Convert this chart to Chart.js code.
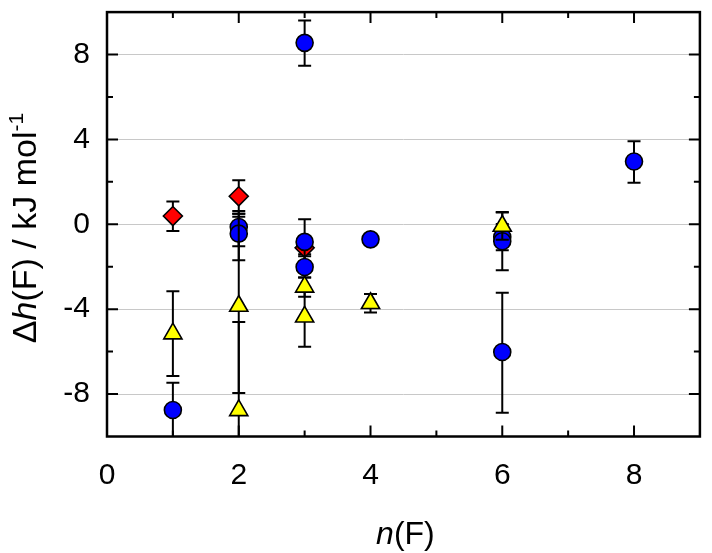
<!DOCTYPE html>
<html><head><meta charset="utf-8">
<script src="https://cdn.jsdelivr.net/npm/chart.js@4.4.0/dist/chart.umd.min.js"></script>
<style>html,body{margin:0;padding:0;background:#fff}#wrap{width:712px;height:553px}</style>
</head><body><div id="wrap"><canvas id="c" width="712" height="553"></canvas></div>
<script>
const xTicks = [0, 2, 4, 6, 8];
const yTicks = [-8, -4, 0, 4, 8];
const xMinor = [1, 3, 5, 7];
const yMinor = [-6, -2, 2, 6];

const blueX = [1, 2, 2, 3, 3, 3, 4, 6, 6, 6, 8];
const blueY = [-8.75, -0.13, -0.44, 8.55, -0.83, -2.01, -0.71, -0.6, -0.8, -6.02, 2.96];
const blueErrUp = [1.28, 0.76, 0.94, 1.05, 1.07, 0.5, 0.2, 0.62, 1.36, 2.79, 0.95];
const blueErrDown = [1.28, 0.91, 1.25, 1.08, 1.07, 0.5, 0.2, 0.62, 1.36, 2.86, 1.0];

const redX = [1, 2, 3];
const redY = [0.39, 1.32, -1.11];
const redErrUp = [0.69, 0.75, 0.3];
const redErrDown = [0.7, 0.82, 0.3];

const yellowX = [1, 2, 2, 3, 3, 4, 6];
const yellowY = [-5.15, -3.85, -8.77, -2.95, -4.36, -3.72, -0.08];
const yellowErrUp = [2.0, 4.2, 4.17, 0.44, 1.41, 0.44, 0.66];
const yellowErrDown = [2.0, 4.1, 4.17, 0.47, 1.41, 0.44, 0.65];

const FONT = '"Liberation Sans", Arial, sans-serif';

function pts(xs, ys) { return xs.map((v, i) => ({ x: v, y: ys[i] })); }

const errorBars = {
  id: 'errorBars',
  beforeDatasetDraw(chart, args) {
    const ds = chart.data.datasets[args.index];
    const xs = chart.scales.x, ys = chart.scales.y;
    const ctx = chart.ctx, a = chart.chartArea;
    ctx.save();
    ctx.beginPath();
    ctx.rect(a.left, a.top, a.right - a.left, a.bottom - a.top);
    ctx.clip();
    ctx.strokeStyle = '#000';
    ctx.lineWidth = 2;
    ds.data.forEach((p, i) => {
      const px = xs.getPixelForValue(p.x);
      const top = ys.getPixelForValue(p.y + ds.errUp[i]);
      const bot = ys.getPixelForValue(p.y - ds.errDown[i]);
      ctx.beginPath();
      ctx.moveTo(px, top); ctx.lineTo(px, bot);
      ctx.moveTo(px - 6.5, top); ctx.lineTo(px + 6.5, top);
      ctx.moveTo(px - 6.5, bot); ctx.lineTo(px + 6.5, bot);
      ctx.stroke();
    });
    ctx.restore();
  }
};

function measureParts(ctx, parts, size) {
  let w = 0;
  parts.forEach(p => {
    ctx.font = (p.italic ? 'italic ' : '') + (p.sup ? size * 0.62 : size) + 'px ' + FONT;
    p.w = ctx.measureText(p.t).width;
    w += p.w;
  });
  return w;
}

const frame = {
  id: 'frame',
  afterDraw(chart) {
    const ctx = chart.ctx, a = chart.chartArea;
    const xs = chart.scales.x, ys = chart.scales.y;
    ctx.save();
    ctx.strokeStyle = '#000';
    ctx.lineWidth = 2.5;
    ctx.strokeRect(a.left, a.top, a.right - a.left, a.bottom - a.top);
    ctx.lineWidth = 2;
    ctx.beginPath();
    const tickX = (v, len) => {
      const px = xs.getPixelForValue(v);
      ctx.moveTo(px, a.bottom); ctx.lineTo(px, a.bottom - len);
      ctx.moveTo(px, a.top); ctx.lineTo(px, a.top + len);
    };
    const tickY = (v, len) => {
      const py = ys.getPixelForValue(v);
      ctx.moveTo(a.left, py); ctx.lineTo(a.left + len, py);
      ctx.moveTo(a.right, py); ctx.lineTo(a.right - len, py);
    };
    xTicks.forEach(v => tickX(v, 11));
    xMinor.forEach(v => tickX(v, 6));
    yTicks.forEach(v => tickY(v, 11));
    yMinor.forEach(v => tickY(v, 6));
    ctx.stroke();

    // titles
    ctx.fillStyle = '#000';
    ctx.textBaseline = 'alphabetic';
    let size = 32;
    const xt = [{ t: 'n', italic: true }, { t: '(F)' }];
    let w = measureParts(ctx, xt, size);
    let x = (a.left + a.right) / 2 + 2 - w / 2;
    xt.forEach(p => {
      ctx.font = (p.italic ? 'italic ' : '') + size + 'px ' + FONT;
      ctx.fillText(p.t, x, 544);
      x += p.w;
    });

    size = 34;
    const yt = [{ t: '\u0394' }, { t: 'h', italic: true }, { t: '(F) / kJ mol' }, { t: '-1', sup: true }];
    w = measureParts(ctx, yt, size);
    ctx.translate(36, 228);
    ctx.rotate(-Math.PI / 2);
    x = -w / 2;
    yt.forEach(p => {
      ctx.font = (p.italic ? 'italic ' : '') + (p.sup ? size * 0.62 : size) + 'px ' + FONT;
      ctx.fillText(p.t, x, p.sup ? -size * 0.38 : 0);
      x += p.w;
    });
    ctx.restore();
  }
};

const common = { pointBorderColor: '#000', pointBorderWidth: 1.6, showLine: false };

new Chart(document.getElementById('c'), {
  type: 'scatter',
  data: {
    datasets: [
      Object.assign({ label: 'yellow', data: pts(yellowX, yellowY), errUp: yellowErrUp, errDown: yellowErrDown,
        pointStyle: 'triangle', pointRadius: 10.5, backgroundColor: '#ffff00', order: 0 }, common),
      Object.assign({ label: 'blue', data: pts(blueX, blueY), errUp: blueErrUp, errDown: blueErrDown,
        pointStyle: 'circle', pointRadius: 8.5, backgroundColor: '#0000ff', order: 1 }, common),
      Object.assign({ label: 'red', data: pts(redX, redY), errUp: redErrUp, errDown: redErrDown,
        pointStyle: 'rectRot', pointRadius: 9.5, backgroundColor: '#ff0000', order: 2 }, common)
    ]
  },
  options: {
    responsive: false,
    animation: false,
    devicePixelRatio: 1,
    layout: { padding: { left: 0, right: 11, top: 11.5, bottom: 0 } },
    plugins: { legend: { display: false }, tooltip: { enabled: false } },
    scales: {
      x: {
        type: 'linear', min: 0, max: 9,
        afterBuildTicks: s => { s.ticks = xTicks.map(v => ({ value: v })); },
        afterFit: s => { s.height = 116.5; s.paddingLeft = 0; s.paddingRight = 0; },
        grid: { display: false, drawTicks: false },
        border: { display: false },
        ticks: { font: { family: FONT, size: 30 }, color: '#000', padding: 21, maxRotation: 0 }
      },
      y: {
        type: 'linear', min: -10, max: 10,
        afterBuildTicks: s => { s.ticks = yTicks.map(v => ({ value: v })); },
        afterFit: s => { s.width = 107; s.paddingTop = 0; s.paddingBottom = 0; },
        grid: { color: '#c8c8c8', lineWidth: 1, drawTicks: false },
        border: { display: false },
        ticks: { font: { family: FONT, size: 30 }, color: '#000', padding: 17 }
      }
    }
  },
  plugins: [errorBars, frame]
});
</script>
</body></html>
